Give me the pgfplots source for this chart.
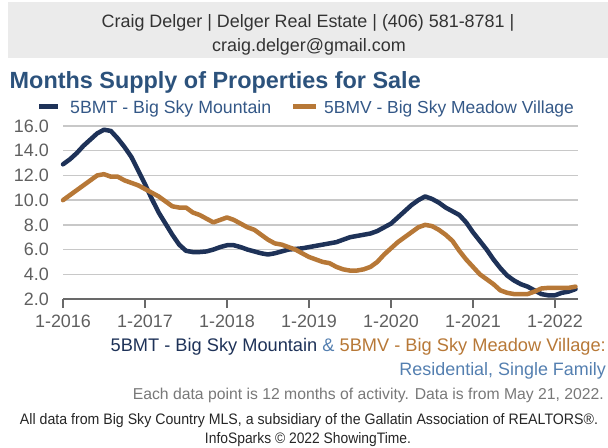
\documentclass[border=0pt]{standalone}
\usepackage{fontspec}
\setmainfont{Liberation Sans}
\usepackage{graphicx}
\usepackage{pgfplots}
\pgfplotsset{compat=1.18}
\definecolor{bmt}{RGB}{30,50,88}
\definecolor{bmv}{RGB}{183,120,55}
\definecolor{titleblue}{RGB}{44,82,124}
\definecolor{legblue}{RGB}{52,88,135}
\definecolor{lightblue}{RGB}{84,127,176}
\definecolor{hdr}{RGB}{235,235,235}
\definecolor{gridc}{RGB}{200,200,200}
\definecolor{axisc}{RGB}{105,105,105}
\definecolor{tickc}{RGB}{95,95,95}
\definecolor{notec}{RGB}{120,120,120}

\pgfplotstableread{
m v
0 12.9
1 13.3
2 13.8
3 14.4
4 14.9
5 15.4
6 15.7
7 15.6
8 15.0
9 14.3
10 13.5
11 12.4
12 11.3
13 10.1
14 9.0
15 8.1
16 7.2
17 6.4
18 5.9
19 5.8
20 5.8
21 5.85
22 6.0
23 6.2
24 6.35
25 6.35
26 6.2
27 6.0
28 5.85
29 5.7
30 5.6
31 5.7
32 5.85
33 6.0
34 6.05
35 6.1
36 6.2
37 6.3
38 6.4
39 6.5
40 6.6
41 6.8
42 7.0
43 7.1
44 7.2
45 7.3
46 7.5
47 7.8
48 8.1
49 8.6
50 9.1
51 9.6
52 10.0
53 10.3
54 10.1
55 9.8
56 9.4
57 9.1
58 8.8
59 8.2
60 7.4
61 6.7
62 6.0
63 5.2
64 4.5
65 3.9
66 3.5
67 3.2
68 3.0
69 2.7
70 2.4
71 2.3
72 2.3
73 2.5
74 2.6
75 2.8
}\bmtdata

\pgfplotstableread{
m v
0 10.0
1 10.4
2 10.8
3 11.2
4 11.6
5 12.0
6 12.1
7 11.9
8 11.9
9 11.6
10 11.4
11 11.2
12 10.9
13 10.6
14 10.3
15 9.9
16 9.5
17 9.4
18 9.4
19 9.0
20 8.8
21 8.5
22 8.2
23 8.4
24 8.6
25 8.4
26 8.1
27 7.8
28 7.6
29 7.2
30 6.8
31 6.5
32 6.4
33 6.2
34 6.0
35 5.7
36 5.4
37 5.2
38 5.0
39 4.9
40 4.6
41 4.4
42 4.3
43 4.3
44 4.4
45 4.6
46 5.0
47 5.6
48 6.1
49 6.6
50 7.0
51 7.4
52 7.8
53 8.0
54 7.9
55 7.6
56 7.2
57 6.7
58 5.9
59 5.2
60 4.6
61 4.0
62 3.6
63 3.2
64 2.7
65 2.5
66 2.4
67 2.4
68 2.4
69 2.6
70 2.85
71 2.9
72 2.9
73 2.9
74 2.9
75 3.0
}\bmvdata

\begin{document}
\begin{tikzpicture}
\path[use as bounding box] (0,0) rectangle (608bp,448bp);
% header band
\fill[hdr] (8bp,390bp) rectangle (608bp,446bp);
\node[anchor=base, inner sep=0pt, text=black!80, font=\fontsize{18}{20}\selectfont] at (308bp,420.5bp) {Craig Delger | Delger Real Estate | (406) 581-8781 |};
\node[anchor=base, inner sep=0pt, text=black!80, font=\fontsize{18}{20}\selectfont] at (309bp,396.5bp) {craig.delger@gmail.com};
% title
\node[anchor=base west, inner sep=0pt, text=titleblue, font=\fontsize{23.5}{26}\selectfont\bfseries] at (9.5bp,359bp) {Months Supply of Properties for Sale};
% legend
\fill[bmt] (39bp,339.3bp) rectangle (58bp,343.5bp);
\node[anchor=base west, inner sep=0pt, text=legblue, font=\fontsize{17.8}{20}\selectfont] at (70bp,334.3bp) {5BMT - Big Sky Mountain};
\fill[bmv] (293bp,339.3bp) rectangle (316bp,343.5bp);
\node[anchor=base west, inner sep=0pt, text=legblue, font=\fontsize{17.5}{20}\selectfont] at (324bp,334.3bp) {5BMV - Big Sky Meadow Village};

\begin{axis}[
  at={(63bp,149bp)}, anchor=south west,
  scale only axis, width=515.2bp, height=173bp,
  xmin=0, xmax=75.4, ymin=2, ymax=16,
  clip=false,
  axis line style={draw=none},
  xtick={0,12,24,36,48,60,72},
  xticklabels={1-2016,1-2017,1-2018,1-2019,1-2020,1-2021,1-2022},
  ytick={2,4,6,8,10,12,14,16},
  yticklabels={2.0,4.0,6.0,8.0,10.0,12.0,14.0,16.0},
  xtick pos=bottom, ytick pos=left,
  xtick align=outside,
  major tick length=9bp,
  x tick style={line width=2bp, color=axisc},
  y tick style={draw=none},
  ymajorgrids,
  grid style={line width=1.5bp, color=gridc},
  tick label style={font=\fontsize{18}{20}\selectfont, text=tickc, inner sep=0pt},
  y tick label style={anchor=east, xshift=-14bp},
  x tick label style={anchor=north, yshift=-7bp},
]
\draw[line width=2.5bp, color=axisc] (axis cs:0,2) -- (axis cs:75.4,2);
\addplot[no marks, bmt, line width=4.5bp, line join=round, line cap=round] table[x=m, y=v] {\bmtdata};
\addplot[no marks, bmv, line width=4.5bp, line join=round, line cap=round] table[x=m, y=v] {\bmvdata};
\end{axis}

% notes below
\node[anchor=base east, inner sep=0pt, font=\fontsize{18.3}{20}\selectfont] at (606bp,96.5bp) {\textcolor{bmt}{5BMT - Big Sky Mountain} \textcolor{lightblue}{\&} \textcolor{bmv}{5BMV - Big Sky Meadow Village:}};
\node[anchor=base east, inner sep=0pt, text=lightblue, font=\fontsize{18}{20}\selectfont] at (606bp,72.5bp) {Residential, Single Family};
\node[anchor=base east, inner sep=0pt, text=notec, font=\fontsize{15.8}{18}\selectfont] at (604bp,48.3bp) {Each data point is 12 months of activity. Data is from May 21, 2022.};
\node[anchor=base, inner sep=0pt, text=black!85] at (309bp,24bp) {\resizebox{578bp}{11bp}{All data from Big Sky Country MLS, a subsidiary of the Gallatin Association of REALTORS®.}};
\node[anchor=base, inner sep=0pt, text=black!85] at (308bp,5bp) {\resizebox{206bp}{11bp}{InfoSparks © 2022 ShowingTime.}};
\end{tikzpicture}
\end{document}
